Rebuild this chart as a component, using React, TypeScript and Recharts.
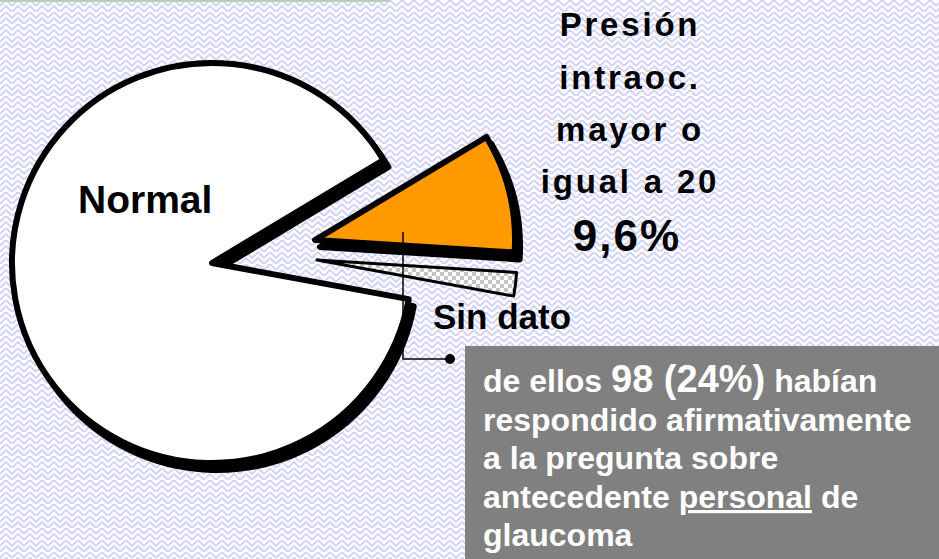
import { PieChart, Pie, Cell } from 'recharts'

// shares of the sample (in drawing order, counterclockwise from the gap)
const categories = ['Normal', 'Sin dato', 'Presión intraoc. mayor o igual a 20']
const percents = [88.5, 1.9, 9.6]

const presionLines = ['Presión', 'intraoc.', 'mayor o', 'igual a 20']
const presionValue = '9,6%'

const data = categories.map((name, i) => ({ name, value: percents[i] }))

const W = 939
const H = 559
const R = 200
const START = 31
const FONT = '"Liberation Sans", Arial, Helvetica, sans-serif'

interface Layer {
  idx: number
  cx: number
  cy: number
  fill: string
  stroke: string
  strokeWidth: number
}

// each slice is drawn by its own Pie so it can be pulled out; shadows sit under the slices
const layers: Layer[] = [
  { idx: 0, cx: 217, cy: 270, fill: '#000', stroke: '#000', strokeWidth: 6 },
  { idx: 0, cx: 212, cy: 263, fill: '#fff', stroke: '#000', strokeWidth: 6 },
  { idx: 1, cx: 317, cy: 260, fill: 'url(#checker)', stroke: '#000', strokeWidth: 3 },
  { idx: 2, cx: 320, cy: 247, fill: '#000', stroke: '#000', strokeWidth: 6 },
  { idx: 2, cx: 315, cy: 240, fill: '#ff9900', stroke: '#000', strokeWidth: 6 },
]

function Background() {
  return (
    <svg width={W} height={H} style={{ position: 'absolute', left: 0, top: 0 }}>
      <defs>
        <pattern id="zigzag" width="12" height="12" patternUnits="userSpaceOnUse">
          <path d="M0 6 L6 0 L12 6 M0 12 L6 6 L12 12" fill="none" stroke="#d3d3f8" strokeWidth="2" />
        </pattern>
        <pattern id="checker" width="8" height="8" patternUnits="userSpaceOnUse">
          <rect width="8" height="8" fill="#fff" />
          <rect width="4" height="4" fill="#c4c4c4" />
          <rect x="4" y="4" width="4" height="4" fill="#c4c4c4" />
        </pattern>
      </defs>
      <rect width={W} height={H} fill="#fff" />
      <rect width={W} height={H} fill="url(#zigzag)" />
      <rect width={390} height={2} fill="#b8d2b8" />
    </svg>
  )
}

function Annotations() {
  const boxLines = [
    [{ t: 'de ellos ', s: 32 }, { t: '98 (24%)', s: 38 }, { t: ' habían', s: 32 }],
    [{ t: 'respondido afirmativamente', s: 32 }],
    [{ t: 'a la pregunta sobre', s: 32 }],
    [{ t: 'antecedente ', s: 32 }, { t: 'personal', s: 32, u: true }, { t: ' de', s: 32 }],
    [{ t: 'glaucoma', s: 32 }],
  ]
  const boxBase = [392, 431, 469, 508, 546]
  const presBase = [36, 89, 141, 193]
  return (
    <svg width={W} height={H} style={{ position: 'absolute', left: 0, top: 0, pointerEvents: 'none' }}>
      <g fontFamily={FONT} fontWeight="bold" fill="#000">
        {presionLines.map((l, i) => (
          <text key={l} x={630} y={presBase[i]} fontSize={33} letterSpacing={2.8} textAnchor="middle">
            {l}
          </text>
        ))}
        <text x={627} y={251} fontSize={44} letterSpacing={2} textAnchor="middle">
          {presionValue}
        </text>
        <text x={78} y={213} fontSize={39}>{categories[0]}</text>
        <text x={433} y={329} fontSize={35}>{categories[1]}</text>
      </g>

      <polyline points="403,232 403,359 450,359" fill="none" stroke="#000" strokeWidth={1.5} />
      <circle cx={450} cy={359} r={5} fill="#000" />

      <rect x={465} y={346} width={W - 465} height={H - 346} fill="#808080" />
      <g fontFamily={FONT} fontWeight="bold" fill="#fff">
        {boxLines.map((parts, i) => (
          <text key={i} x={483} y={boxBase[i]} xmlSpace="preserve">
            {parts.map((p, j) => (
              <tspan key={j} fontSize={p.s} textDecoration={p.u ? 'underline' : undefined}>
                {p.t}
              </tspan>
            ))}
          </text>
        ))}
      </g>
    </svg>
  )
}

export default function App() {
  return (
    <div style={{ position: 'absolute', left: 0, top: 0, width: W, height: H, overflow: 'hidden' }}>
      <Background />
      <div style={{ position: 'absolute', left: 0, top: 0 }}>
        <PieChart width={W} height={H} margin={{ top: 0, right: 0, bottom: 0, left: 0 }}>
          {layers.map((layer, li) => (
            <Pie
              key={li}
              data={data}
              dataKey="value"
              nameKey="name"
              cx={layer.cx}
              cy={layer.cy}
              innerRadius={0}
              outerRadius={R}
              startAngle={START}
              endAngle={START + 360}
              label={false}
              labelLine={false}
              isAnimationActive={false}
            >
              {data.map((d, i) => (
                <Cell
                  key={d.name}
                  fill={i === layer.idx ? layer.fill : 'none'}
                  stroke={i === layer.idx ? layer.stroke : 'none'}
                  strokeWidth={layer.strokeWidth}
                  strokeLinejoin="round"
                />
              ))}
            </Pie>
          ))}
        </PieChart>
      </div>
      <Annotations />
    </div>
  )
}
